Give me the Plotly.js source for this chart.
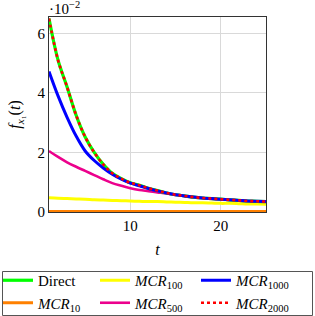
<!DOCTYPE html>
<html>
<head>
<meta charset="utf-8">
<script src="https://cdn.plot.ly/plotly-3.0.1.min.js"></script>
<style>html,body{margin:0;padding:0;background:#fff;}#chart{width:315px;height:316px;}</style>
</head>
<body>
<div id="chart"></div>
<script>
const t = [1,2,3,4,5,6,7,8,9,10,11,12,13,14,15,16,17,18,19,20,21,22,23,24,25];
const direct  = [6.5,5.1,4.2,3.25,2.52,2.0,1.6,1.3,1.12,0.98,0.9,0.8,0.72,0.64,0.58,0.54,0.5,0.47,0.45,0.43,0.41,0.39,0.37,0.36,0.35];
const mcr10   = [0.02,0.02,0.02,0.02,0.02,0.02,0.02,0.02,0.02,0.02,0.02,0.02,0.02,0.02,0.02,0.02,0.02,0.02,0.02,0.02,0.02,0.02,0.02,0.02,0.02];
const mcr100  = [0.48,0.46,0.45,0.44,0.43,0.41,0.40,0.39,0.38,0.37,0.36,0.35,0.35,0.34,0.33,0.32,0.31,0.31,0.30,0.29,0.29,0.28,0.27,0.27,0.26];
const mcr500  = [2.05,1.85,1.67,1.52,1.38,1.24,1.1,0.97,0.88,0.8,0.74,0.7,0.66,0.62,0.57,0.53,0.49,0.46,0.44,0.42,0.4,0.38,0.36,0.35,0.34];
const mcr1000 = [4.72,3.9,3.18,2.55,2.05,1.73,1.48,1.27,1.1,0.97,0.88,0.79,0.71,0.64,0.58,0.54,0.5,0.47,0.45,0.43,0.41,0.39,0.37,0.36,0.35];
const mcr2000 = [6.5,5.1,4.2,3.25,2.52,2.0,1.6,1.3,1.12,0.98,0.9,0.8,0.72,0.64,0.58,0.54,0.5,0.47,0.45,0.43,0.41,0.39,0.37,0.36,0.35];

const mk = (y, name, color, leg, rank, width, dash) => ({
  x: t, y: y, name: name, type: 'scatter', mode: 'lines',
  line: {color: color, width: width, dash: dash || 'solid', shape: 'spline'},
  legend: leg, legendrank: rank
});

const data = [
  mk(mcr10, '<i>MCR</i><sub>10</sub>', '#ff8000', 'legend', 2, 3),
  mk(mcr100, '<i>MCR</i><sub>100</sub>', '#ffff00', 'legend2', 1, 3),
  mk(mcr500, '<i>MCR</i><sub>500</sub>', '#ec008c', 'legend2', 2, 2.6),
  mk(direct, 'Direct', '#00ff00', 'legend', 1, 3.2),
  mk(mcr1000, '<i>MCR</i><sub>1000</sub>', '#0000ff', 'legend3', 1, 3),
  mk(mcr2000, '<i>MCR</i><sub>2000</sub>', '#ff0000', 'legend3', 2, 2.6, 'dot')
];

const serif = 'Liberation Serif, serif';
const W = 217, H = 195, L = 49, T = 17;
const px2x = p => (p - L) / W;
const px2y = p => (T + H - p) / H;
const legBase = (xpx) => ({
  orientation: 'v', x: px2x(xpx), xanchor: 'left', y: px2y(264), yanchor: 'top',
  borderwidth: 0, bgcolor: 'rgba(0,0,0,0)', font: {family: serif, size: 15},
  traceorder: 'normal', tracegroupgap: 0
});

const layout = {
  width: 315, height: 316,
  margin: {l: L, r: 49, t: T, b: 104, autoexpand: false},
  paper_bgcolor: '#fff', plot_bgcolor: '#fff',
  font: {family: serif, size: 15, color: '#000'},
  showlegend: true,
  xaxis: {
    range: [1, 25], dtick: 10, tick0: 0, automargin: false,
    showgrid: true, gridcolor: '#d9d9d9', gridwidth: 1,
    zeroline: false, showline: true, linecolor: '#333', linewidth: 1, mirror: true,
    ticks: '', tickfont: {family: serif, size: 15},
    title: {text: '<i>t</i>', font: {family: serif, size: 16}, standoff: 10}
  },
  yaxis: {
    range: [0, 6.55], dtick: 2, tick0: 0, automargin: false,
    showgrid: true, gridcolor: '#d9d9d9', gridwidth: 1,
    zeroline: false, showline: true, linecolor: '#333', linewidth: 1, mirror: true,
    ticks: '', tickfont: {family: serif, size: 15},
    title: {text: '<i>f</i><sub><i>x</i>₁</sub>(<i>t</i>)', font: {family: serif, size: 16}, standoff: 12}
  },
  legend: legBase(-2),
  legend2: legBase(95),
  legend3: legBase(196),
  shapes: [{
    type: 'rect', xref: 'paper', yref: 'paper', layer: 'below',
    x0: px2x(2.5), x1: px2x(312.5), y0: px2y(271.5), y1: px2y(315.5),
    line: {color: '#555', width: 1}, fillcolor: 'rgba(0,0,0,0)'
  }],
  annotations: [{
    xref: 'paper', yref: 'paper', x: 0, y: 1.0, xanchor: 'left', yanchor: 'bottom',
    text: '·10<sup>−2</sup>', showarrow: false, font: {family: serif, size: 15},
    xshift: -2, yshift: -2
  }]
};

Plotly.newPlot('chart', data, layout, {displayModeBar: false, staticPlot: true});
</script>
</body>
</html>
